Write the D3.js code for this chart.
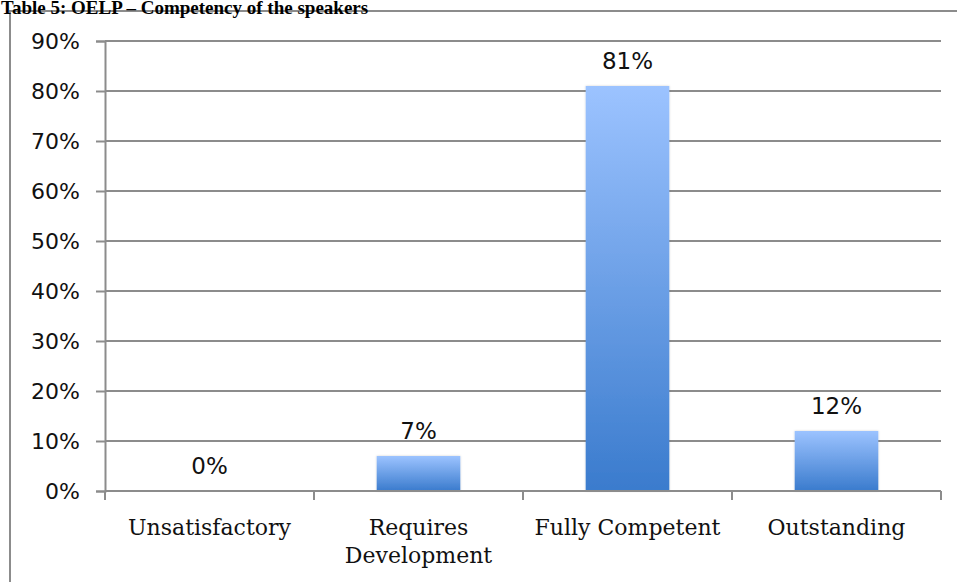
<!DOCTYPE html>
<html>
<head>
<meta charset="utf-8">
<script src="https://cdn.jsdelivr.net/npm/d3@7"></script>
<style>
  html, body { margin: 0; padding: 0; background: #fff; }
  svg { display: block; }
</style>
</head>
<body>
<svg id="chart" width="957" height="582"></svg>
<script>
// Competency ratings and the share of speakers in each
const categories = ["Unsatisfactory", "Requires\nDevelopment", "Fully Competent", "Outstanding"];
const values = [0, 7, 81, 12];
const yTicks = [0, 10, 20, 30, 40, 50, 60, 70, 80, 90];
const titleText = "Table 5: OELP – Competency of the speakers";

const svg = d3.select("#chart");
const W = 957, H = 582;
const plot = { left: 105, right: 941, top: 41, bottom: 491 };
const grey = "#8c8c8c";

// Frame around the chart
svg.append("rect")
  .attr("x", 10).attr("y", 11)
  .attr("width", W + 10).attr("height", H + 10)
  .attr("fill", "none").attr("stroke", grey).attr("stroke-width", 2);

// Caption above the frame
svg.append("text")
  .attr("x", 1).attr("y", 14)
  .attr("font-family", "'Liberation Serif', 'Times New Roman', serif")
  .attr("font-weight", "bold").attr("font-size", 19)
  .attr("fill", "#000")
  .text(titleText);

const x = d3.scaleBand().domain(categories).range([plot.left, plot.right]).padding(0);
const y = d3.scaleLinear().domain([0, 90]).range([plot.bottom, plot.top]);

// Bar fill: light blue at top fading to deeper blue
const defs = svg.append("defs");
const grad = defs.append("linearGradient")
  .attr("id", "barFill").attr("x1", 0).attr("y1", 0).attr("x2", 0).attr("y2", 1);
grad.append("stop").attr("offset", "0%").attr("stop-color", "#9cc3ff");
grad.append("stop").attr("offset", "100%").attr("stop-color", "#3a7bcd");

const shadow = defs.append("filter").attr("id", "soft")
  .attr("x", "-10%").attr("y", "-10%").attr("width", "120%").attr("height", "120%");
shadow.append("feDropShadow").attr("dx", 0).attr("dy", 0)
  .attr("stdDeviation", 1.2).attr("flood-color", "#000").attr("flood-opacity", 0.18);

// Horizontal gridlines
svg.append("g")
  .selectAll("line")
  .data(yTicks.filter(t => t > 0))
  .join("line")
  .attr("x1", plot.left).attr("x2", plot.right)
  .attr("y1", d => y(d)).attr("y2", d => y(d))
  .attr("stroke", grey).attr("stroke-width", 2);

// Y axis
const yAxis = svg.append("g")
  .attr("transform", `translate(${plot.left},0)`)
  .call(d3.axisLeft(y).tickValues(yTicks).tickFormat(d => d + "%").tickSize(9).tickPadding(16));
yAxis.select(".domain").attr("stroke", grey).attr("stroke-width", 2);
yAxis.selectAll(".tick line").attr("stroke", grey).attr("stroke-width", 2);
yAxis.selectAll(".tick text")
  .attr("font-family", "'DejaVu Sans', sans-serif")
  .attr("font-size", 22).attr("fill", "#111");

// Bars
const barW = x.bandwidth() * 0.4;
svg.append("g")
  .selectAll("rect")
  .data(values.map((v, i) => ({ cat: categories[i], v })).filter(d => d.v > 0))
  .join("rect")
  .attr("x", d => x(d.cat) + (x.bandwidth() - barW) / 2)
  .attr("y", d => y(d.v))
  .attr("width", barW)
  .attr("height", d => y(0) - y(d.v))
  .attr("fill", "url(#barFill)")
  .attr("filter", "url(#soft)");

// X axis baseline with category ticks
svg.append("line")
  .attr("x1", plot.left).attr("x2", plot.right)
  .attr("y1", y(0)).attr("y2", y(0))
  .attr("stroke", grey).attr("stroke-width", 2);
const boundaries = categories.map(c => x(c)).concat([plot.right]);
svg.append("g")
  .selectAll("line")
  .data(boundaries)
  .join("line")
  .attr("x1", d => d).attr("x2", d => d)
  .attr("y1", y(0)).attr("y2", y(0) + 9)
  .attr("stroke", grey).attr("stroke-width", 2);

// Category labels (wrapped on newline)
const catLabels = svg.append("g")
  .selectAll("text")
  .data(categories)
  .join("text")
  .attr("x", d => x(d) + x.bandwidth() / 2)
  .attr("y", 535)
  .attr("text-anchor", "middle")
  .attr("font-family", "'DejaVu Serif', serif")
  .attr("font-size", 22)
  .attr("fill", "#111");
catLabels.each(function (d) {
  const lines = d.split("\n");
  d3.select(this).selectAll("tspan")
    .data(lines)
    .join("tspan")
    .attr("x", x(d) + x.bandwidth() / 2)
    .attr("dy", (l, i) => i === 0 ? 0 : 28)
    .text(l => l);
});

// Value labels above bars
svg.append("g")
  .selectAll("text")
  .data(values.map((v, i) => ({ cat: categories[i], v })))
  .join("text")
  .attr("x", d => x(d.cat) + x.bandwidth() / 2)
  .attr("y", d => y(d.v) - 17)
  .attr("text-anchor", "middle")
  .attr("font-family", "'DejaVu Sans', sans-serif")
  .attr("font-size", 23)
  .attr("fill", "#111")
  .text(d => d.v + "%");
</script>
</body>
</html>
